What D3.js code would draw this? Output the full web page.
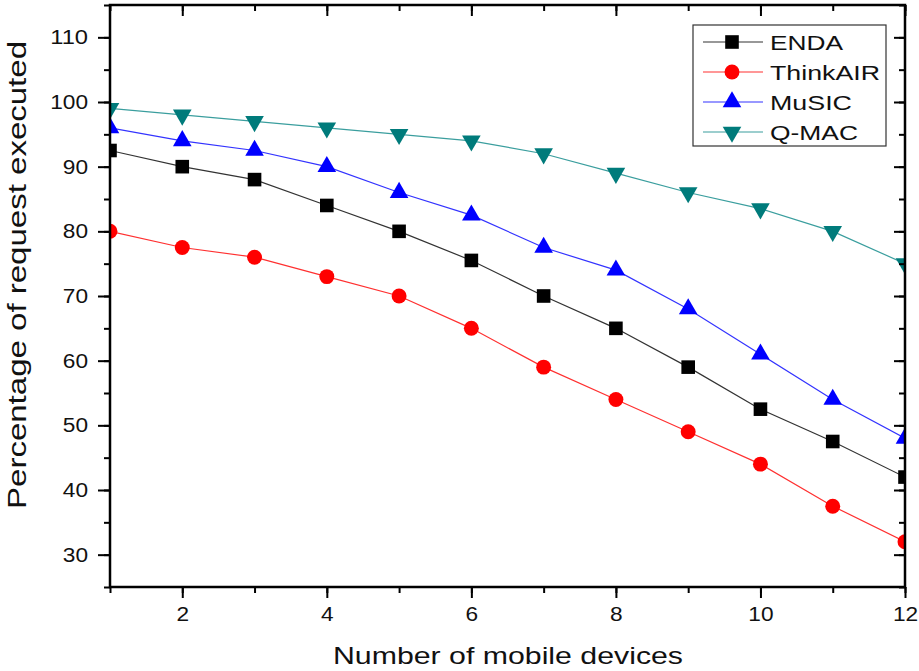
<!DOCTYPE html>
<html>
<head>
<meta charset="utf-8">
<script src="https://cdn.jsdelivr.net/npm/d3@7"></script>
<style>
  body { margin: 0; background: #fff; }
  svg text { font-family: "Liberation Sans", Arial, sans-serif; }
</style>
</head>
<body>
<div id="chart"></div>
<script>
// datos
var devices = [1, 2, 3, 4, 5, 6, 7, 8, 9, 10, 11, 12];
var enda     = [92.5, 90, 88, 84, 80, 75.5, 70, 65, 59, 52.5, 47.5, 42];
var thinkair = [80, 77.5, 76, 73, 70, 65, 59, 54, 49, 44, 37.5, 32];
var music    = [96, 94, 92.5, 90, 86, 82.5, 77.5, 74, 68, 61, 54, 48];
var qmac     = [99, 98, 97, 96, 95, 94, 92, 89, 86, 83.5, 80, 75];
var seriesNames = ["ENDA", "ThinkAIR", "MuSIC", "Q-MAC"];
var xTicks = [2, 4, 6, 8, 10, 12];
var yTicks = [30, 40, 50, 60, 70, 80, 90, 100, 110];

var w = 919, h = 671;
var m = {left: 110, right: 14, top: 5, bottom: 84};

var svg = d3.select("#chart").append("svg")
  .attr("width", w)
  .attr("height", h);

var x = d3.scaleLinear().domain([1, 12]).range([m.left, w - m.right]);
var y = d3.scaleLinear().domain([25, 115]).range([h - m.bottom, m.top]);

var series = [
  {name: seriesNames[0], vals: enda, color: "#000000", line: "#333333", sym: d3.symbolSquare, size: 185, rot: 0, tl: 73},
  {name: seriesNames[1], vals: thinkair, color: "#ff0000", line: "#ff3030", sym: d3.symbolCircle, size: 175, rot: 0, tl: 110},
  {name: seriesNames[2], vals: music, color: "#0000ff", line: "#3333ff", sym: d3.symbolTriangle, size: 150, rot: 0, tl: 82},
  {name: seriesNames[3], vals: qmac, color: "#007b7b", line: "#3a9e9e", sym: d3.symbolTriangle, size: 150, rot: 180, tl: 88}
];

// clip del area del grafico
svg.append("clipPath").attr("id", "clip")
  .append("rect")
  .attr("x", m.left).attr("y", m.top)
  .attr("width", w - m.right - m.left)
  .attr("height", h - m.bottom - m.top);

var plot = svg.append("g").attr("clip-path", "url(#clip)");

var line = d3.line()
  .x(function(d, i) { return x(devices[i]); })
  .y(function(d) { return y(d); });

series.forEach(function(s) {
  plot.append("path")
    .datum(s.vals)
    .attr("fill", "none")
    .attr("stroke", s.line)
    .attr("stroke-width", 1.2)
    .attr("d", line);

  plot.selectAll(null)
    .data(s.vals)
    .enter()
    .append("path")
    .attr("d", d3.symbol().type(s.sym).size(s.size))
    .attr("fill", s.color)
    .attr("transform", function(d, i) {
      return "translate(" + x(devices[i]) + "," + y(d) + ") rotate(" + s.rot + ")";
    });
});

// ejes
var minorX = d3.range(1, 13);
var minorY = d3.range(25, 116, 5);

function styleAxis(g) {
  g.select(".domain").remove();
  g.selectAll("line").attr("stroke", "#000").attr("stroke-width", 2);
  g.selectAll("text")
    .attr("font-size", 20)
    .attr("fill", "#111")
    // el texto original esta un poco estirado
    .attr("textLength", function() { return this.textContent.length * 12.6; })
    .attr("lengthAdjust", "spacingAndGlyphs");
}

// x abajo
svg.append("g")
  .attr("transform", "translate(0," + (h - m.bottom) + ")")
  .call(d3.axisBottom(x).tickValues(minorX).tickSize(6).tickFormat(""))
  .call(styleAxis);
svg.append("g")
  .attr("transform", "translate(0," + (h - m.bottom) + ")")
  .call(d3.axisBottom(x).tickValues(xTicks).tickSize(11).tickPadding(9))
  .call(styleAxis);

// x arriba (hacia adentro)
svg.append("g")
  .attr("transform", "translate(0," + m.top + ")")
  .call(d3.axisBottom(x).tickValues(minorX).tickSize(6).tickFormat(""))
  .call(styleAxis);
svg.append("g")
  .attr("transform", "translate(0," + m.top + ")")
  .call(d3.axisBottom(x).tickValues(xTicks).tickSize(11).tickFormat(""))
  .call(styleAxis);

// y izquierda
svg.append("g")
  .attr("transform", "translate(" + m.left + ",0)")
  .call(d3.axisLeft(y).tickValues(minorY).tickSize(6).tickFormat(""))
  .call(styleAxis);
svg.append("g")
  .attr("transform", "translate(" + m.left + ",0)")
  .call(d3.axisLeft(y).tickValues(yTicks).tickSize(12).tickPadding(10))
  .call(styleAxis);

// y derecha (hacia adentro)
svg.append("g")
  .attr("transform", "translate(" + (w - m.right) + ",0)")
  .call(d3.axisLeft(y).tickValues(minorY).tickSize(6).tickFormat(""))
  .call(styleAxis);
svg.append("g")
  .attr("transform", "translate(" + (w - m.right) + ",0)")
  .call(d3.axisLeft(y).tickValues(yTicks).tickSize(11).tickFormat(""))
  .call(styleAxis);

// marco
svg.append("rect")
  .attr("x", m.left).attr("y", m.top)
  .attr("width", w - m.right - m.left)
  .attr("height", h - m.bottom - m.top)
  .attr("fill", "none")
  .attr("stroke", "#000")
  .attr("stroke-width", 2.5);

// titulos de ejes
svg.append("text")
  .attr("x", 508)
  .attr("y", 664)
  .attr("text-anchor", "middle")
  .attr("font-size", 24)
  .attr("textLength", 350)
  .attr("lengthAdjust", "spacingAndGlyphs")
  .attr("fill", "#111")
  .text("Number of mobile devices");

svg.append("text")
  .attr("transform", "translate(26,275) rotate(-90)")
  .attr("text-anchor", "middle")
  .attr("font-size", 25)
  .attr("textLength", 468)
  .attr("lengthAdjust", "spacingAndGlyphs")
  .attr("fill", "#111")
  .text("Percentage of request executed");

// leyenda
var legend = svg.append("g").attr("transform", "translate(693,25)");
legend.append("rect")
  .attr("width", 193).attr("height", 121)
  .attr("fill", "#fff")
  .attr("stroke", "#333")
  .attr("stroke-width", 1.2);

series.forEach(function(s, i) {
  var row = legend.append("g").attr("transform", "translate(0," + (17 + i * 30) + ")");
  row.append("line")
    .attr("x1", 10).attr("x2", 70)
    .attr("stroke", s.line).attr("stroke-width", 1.2);
  row.append("path")
    .attr("d", d3.symbol().type(s.sym).size(s.size))
    .attr("fill", s.color)
    .attr("transform", "translate(39,0) rotate(" + s.rot + ")");
  row.append("text")
    .attr("x", 77).attr("y", 8)
    .attr("font-size", 21)
    .attr("textLength", s.tl)
    .attr("lengthAdjust", "spacingAndGlyphs")
    .attr("fill", "#111")
    .text(s.name);
});
</script>
</body>
</html>
